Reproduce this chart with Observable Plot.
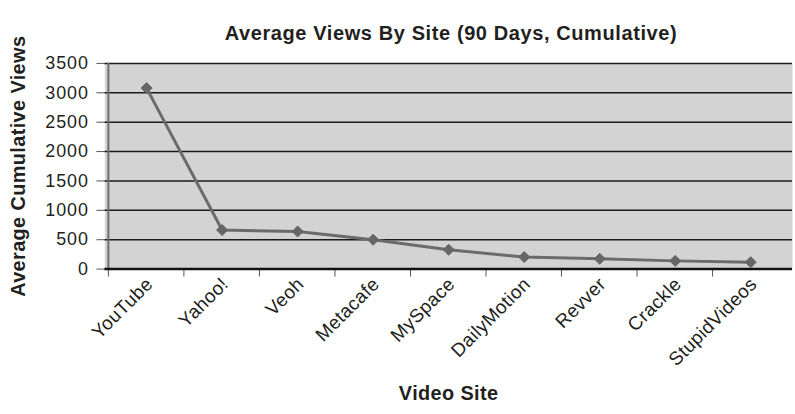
<!DOCTYPE html>
<html><head><meta charset="utf-8">
<script src="https://cdn.jsdelivr.net/npm/d3@7"></script>
<script src="https://cdn.jsdelivr.net/npm/@observablehq/plot@0.6"></script>
<style>
html,body{margin:0;padding:0;background:#fff;overflow:hidden;width:795px;height:414px}
#title{box-sizing:border-box;width:800px;height:48px;padding:23px 3px 0 105px;text-align:center;font:bold 20px "Liberation Sans",Arial,sans-serif;letter-spacing:0.6px;color:#231f20;line-height:20px;white-space:nowrap}
svg [aria-label="y-axis tick label"] text{letter-spacing:1px}
svg [aria-label="x-axis tick label"] text{letter-spacing:0.4px}
svg .axis-title{letter-spacing:0.4px}
</style></head><body>
<div id="title">Average Views By Site (90 Days, Cumulative)</div>
<div id="chart"></div>
<script>
const sites = ["YouTube", "Yahoo!", "Veoh", "Metacafe", "MySpace", "DailyMotion", "Revver", "Crackle", "StupidVideos"];
const views = [3080, 665, 640, 500, 330, 205, 175, 140, 118];
const yTicks = [0, 500, 1000, 1500, 2000, 2500, 3000, 3500];
const xTitle = "Video Site";
const yTitle = "Average Cumulative Views";

const data = sites.map((s, i) => ({site: s, views: views[i]}));
const W = 800, ML = 105, MR = 3;
const bw = (W - ML - MR) / sites.length;
const font = '"Liberation Sans", Arial, sans-serif';
const ink = "#231f20";

const plot = Plot.plot({
  width: W, height: 366, marginTop: 15, marginBottom: 144, marginLeft: ML, marginRight: MR,
  style: {fontFamily: font, fontSize: "18px", color: ink, background: "white", overflow: "visible"},
  x: {type: "band", domain: sites, padding: 0, axis: null},
  y: {domain: [0, 3500], axis: null},
  marks: [
    Plot.frame({fill: "#d3d3d3", stroke: null}),
    Plot.ruleY(yTicks.filter(d => d > 0), {stroke: "#1a1a1a", strokeWidth: 1.5}),
    Plot.ruleX([sites[0]], {dx: -bw / 2, y1: 0, y2: 3500, stroke: "#6d6d6d", strokeWidth: 2}),
    Plot.axisY({ticks: yTicks, tickSize: 8, tickPadding: 8, tickFormat: d => String(d), label: null, fontSize: 18, stroke: "#555"}),
    Plot.axisX({ticks: sites, tickSize: 8, tickFormat: () => "", dx: -bw / 2, label: null, stroke: "#555"}),
    Plot.axisX({ticks: sites, tickSize: 0, tickRotate: -45, tickPadding: 12, dx: 3, label: null, fontSize: 19}),
    Plot.ruleY([0], {stroke: "#111", strokeWidth: 2.5}),
    Plot.line(data, {x: "site", y: "views", stroke: "#6b6b6b", strokeWidth: 3}),
    Plot.dot(data, {x: "site", y: "views", symbol: "diamond2", r: 5, fill: "#666", stroke: "#666", strokeWidth: 1}),
    Plot.text([xTitle], {text: d => d, frameAnchor: "bottom", dy: 132, fontWeight: "bold", fontSize: 20, className: "axis-title"}),
    Plot.text([yTitle], {text: d => d, frameAnchor: "left", textAnchor: "middle", rotate: -90, dx: -87, fontWeight: "bold", fontSize: 20, className: "axis-title"})
  ]
});
document.getElementById("chart").appendChild(plot);
</script>
</body></html>
